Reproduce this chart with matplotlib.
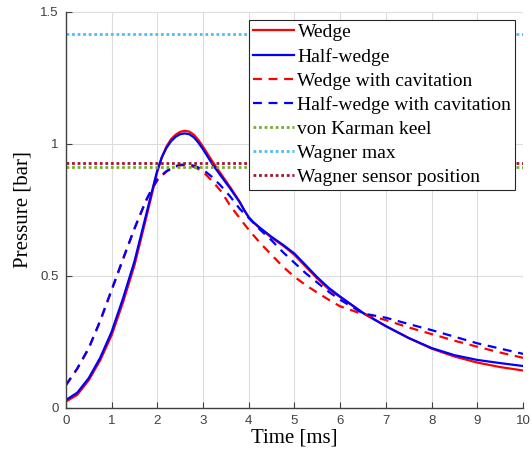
import matplotlib
matplotlib.use('Agg')
import matplotlib.pyplot as plt

t = [0, 0.25, 0.5, 0.75, 1.0, 1.25, 1.5, 1.75, 1.875, 2.0, 2.1, 2.2, 2.3, 2.4, 2.5, 2.6,
     2.7, 2.8, 2.9, 3.0, 3.2, 3.4, 3.6, 3.8, 3.9, 4.0, 4.1, 4.25, 4.5, 4.75, 5.0, 5.25,
     5.5, 5.75, 6.0, 6.5, 7.0, 7.5, 8.0, 8.5, 9.0, 9.5, 10]

wedge = [0.024, 0.05, 0.105, 0.18, 0.275, 0.40, 0.54, 0.715, 0.805, 0.895, 0.95, 0.99,
         1.018, 1.035, 1.046, 1.05, 1.047, 1.035, 1.015, 0.99, 0.935, 0.885, 0.835, 0.782,
         0.75, 0.722, 0.703, 0.68, 0.645, 0.615, 0.58, 0.535, 0.49, 0.45, 0.42, 0.36, 0.31,
         0.265, 0.225, 0.195, 0.172, 0.155, 0.142]

half_wedge = [0.03, 0.058, 0.113, 0.19, 0.288, 0.415, 0.555, 0.728, 0.815, 0.9, 0.95,
              0.985, 1.01, 1.027, 1.037, 1.04, 1.037, 1.025, 1.005, 0.98, 0.925, 0.877,
              0.83, 0.78, 0.75, 0.722, 0.704, 0.682, 0.648, 0.618, 0.585, 0.54, 0.495,
              0.455, 0.422, 0.36, 0.31, 0.265, 0.227, 0.2, 0.182, 0.17, 0.159]

wedge_cav = [0.085, 0.148, 0.225, 0.328, 0.445, 0.562, 0.678, 0.783, 0.826, 0.863, 0.88,
             0.895, 0.906, 0.914, 0.919, 0.92, 0.918, 0.913, 0.905, 0.895, 0.86, 0.82,
             0.765, 0.72, 0.697, 0.675, 0.655, 0.625, 0.58, 0.535, 0.497, 0.465, 0.437,
             0.41, 0.385, 0.355, 0.333, 0.305, 0.28, 0.255, 0.232, 0.21, 0.19]

half_wedge_cav = [0.087, 0.15, 0.227, 0.33, 0.447, 0.565, 0.68, 0.785, 0.828, 0.865,
                  0.882, 0.897, 0.908, 0.916, 0.921, 0.922, 0.921, 0.918, 0.911, 0.903,
                  0.875, 0.84, 0.80, 0.755, 0.737, 0.72, 0.702, 0.675, 0.635, 0.59, 0.55,
                  0.51, 0.475, 0.44, 0.41, 0.358, 0.342, 0.318, 0.295, 0.27, 0.245, 0.225,
                  0.205]

von_karman = 0.911
wagner_max = 1.415
wagner_sensor = 0.928

serif = 'Liberation Serif'
sans = 'Liberation Sans'

fig = plt.figure(figsize=(5.31, 4.61), dpi=100)
ax = fig.add_axes([0.124, 0.115, 0.861, 0.859])

dash = (0, (4, 3))
dots = (0, (1, 1))
ax.plot(t, wedge, color='red', lw=1.6, label='Wedge')
ax.plot(t, half_wedge, color='blue', lw=1.6, label='Half-wedge')
ax.plot(t, wedge_cav, color='red', lw=1.6, ls=dash, label='Wedge with cavitation')
ax.plot(t, half_wedge_cav, color='blue', lw=1.6, ls=dash,
        label='Half-wedge with cavitation')
ax.axhline(von_karman, color=(0.466, 0.674, 0.188), lw=2, ls=dots, label='von Karman keel')
ax.axhline(wagner_max, color=(0.301, 0.745, 0.933), lw=2, ls=dots, label='Wagner max')
ax.axhline(wagner_sensor, color=(0.635, 0.078, 0.184), lw=2, ls=dots,
           label='Wagner sensor position')

ax.set_xlim(0, 10)
ax.set_ylim(0, 1.5)
ax.set_xticks(range(0, 11))
ax.set_yticks([0, 0.5, 1, 1.5])
ax.set_yticklabels(['0', '0.5', '1', '1.5'])
ax.grid(True, color='#dcdcdc', lw=0.8)
ax.set_axisbelow(True)

for s in ['top', 'right']:
    ax.spines[s].set_visible(False)
for s in ['left', 'bottom']:
    ax.spines[s].set_color('#404040')
    ax.spines[s].set_linewidth(1)

ax.tick_params(direction='in', length=4, colors='#404040', labelsize=9.5, pad=5)
for lab in ax.get_xticklabels() + ax.get_yticklabels():
    lab.set_family(sans)

ax.set_xlabel('Time [ms]', family=serif, fontsize=15, labelpad=1)
ax.set_ylabel('Pressure [bar]', family=serif, fontsize=15, labelpad=6)

leg = ax.legend(loc='upper right', prop={'family': serif, 'size': 14},
                frameon=True, fancybox=False, edgecolor='#262626', framealpha=1,
                handlelength=2.1, handletextpad=0.2, labelspacing=0.33,
                borderpad=0.2, borderaxespad=0.4)
leg.get_frame().set_linewidth(0.8)

fig.savefig('out.png', dpi=100)
